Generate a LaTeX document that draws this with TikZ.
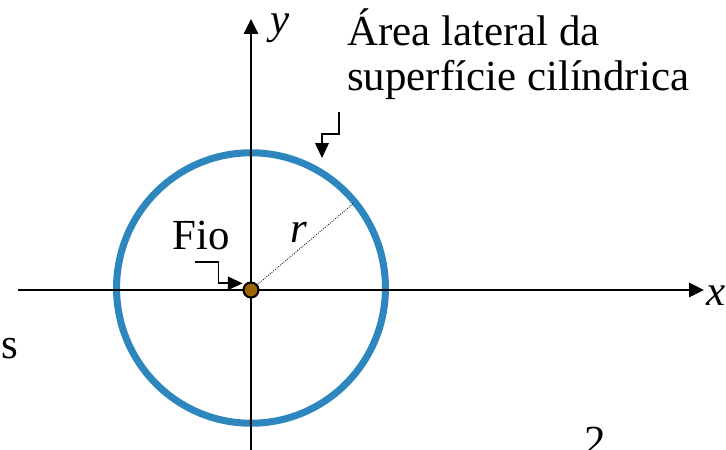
\documentclass[tikz,border=0pt]{standalone}
\usepackage{fontspec}
\setmainfont{Liberation Serif}
\usepackage{tikz}
\usetikzlibrary{calc,arrows.meta}
\definecolor{shell}{RGB}{46,134,190}
\definecolor{wire}{RGB}{153,102,0}
\tikzset{
  jaxis/.style={black,line width=1.4pt,-{Triangle[length=10.5pt,width=10pt]}},
  jcallout/.style={black,line width=1.4pt,-{Triangle[length=10.5pt,width=9.5pt]}},
  jshell/.style={shell,line width=5pt},
  jradius/.style={black,line width=0.6pt,densely dotted},
  jwire/.style={circle,fill=wire,draw=black,line width=1.4pt,minimum size=10.6pt,inner sep=0pt},
  jlabel/.style={font=\fontsize{30.5}{32}\selectfont,inner sep=0pt,anchor=base west},
  jmath/.style={jlabel,font=\fontsize{30.5}{32}\selectfont\itshape},
}

\begin{document}
\begin{tikzpicture}[x=0.025cm,y=-0.025cm]
  \useasboundingbox (0,0) rectangle (726,449);
  \clip (0,0) rectangle (726,449);
  % ---- cylindrical surface ----
  \coordinate (shellC) at (251,288);
  \draw[jshell] (shellC) circle [x radius=3.36cm,y radius=3.38cm];
  % ---- axes ----
  \coordinate (xL) at (18,290);
  \coordinate (xR) at (704,290);
  \coordinate (yB) at (251,452);
  \coordinate (yT) at (251,19);
  \draw[jaxis] (xL) -- (xR);
  \draw[jaxis] (yB) -- (yT);
  \node[jmath] (xLab) at (706,305) {x};
  \node[jmath] (yLab) at (270,33) {y};
  % ---- wire and radius ----
  \node[jwire] (wire) at (251,290) {};
  \coordinate (rEnd) at (354,203);
  \draw[jradius] (wire.center) -- (rEnd);
  \node[jwire] at (wire) {};
  \node[jmath] (rLab) at (290,242) {r};
  % ---- labels and callouts ----
  \node[jlabel] (fio) at (172,249) {Fio};
  \coordinate (fioTail) at (195,262);
  \coordinate (fioTurn) at (218.5,283.3);
  \draw[jcallout] (fioTail) -| (fioTurn) -- (fioTurn -| wire.west);
  \node[jlabel,align=left] (area) at (347,90) {Área lateral da\\superfície cilíndrica};
  \coordinate (shellTail) at (339,112);
  \coordinate (shellTip) at (322,158);
  \draw[jcallout] (shellTail) -- ++(0,22) -| (shellTip);
  % ---- cut-off fragments ----
  \node[jlabel] (frag1) at (1,358) {s};
  \node[jlabel] (frag2) at (584,455) {2};
\end{tikzpicture}
\end{document}
